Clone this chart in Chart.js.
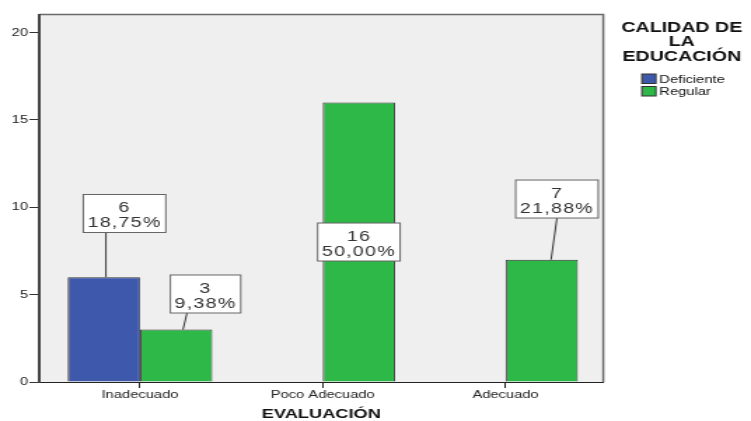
<!DOCTYPE html>
<html>
<head>
<meta charset="utf-8">
<script src="https://cdn.jsdelivr.net/npm/chart.js@4.4.0/dist/chart.umd.min.js"></script>
<style>
  html, body { margin: 0; padding: 0; background: #fff; overflow: hidden; }
</style>
</head>
<body>
<!-- the original export is stretched sideways, so the canvas is drawn narrow and widened by css -->
<canvas id="chart" width="536" height="421" style="width:751px;height:421px"></canvas>
<script>
const categories = ['Inadecuado', 'Poco Adecuado', 'Adecuado'];
const deficienteCounts = [6, null, null];
const regularCounts = [3, 16, 7];
const yTicks = [0, 5, 10, 15, 20];
const legendTitle = ['CALIDAD DE', 'LA', 'EDUCACIÓN'];
const xTitle = 'EVALUACIÓN';

const FONT = '"Liberation Sans", Arial, sans-serif';
const total = deficienteCounts.concat(regularCounts).reduce((s, v) => s + (v || 0), 0);
const pct = v => (v * 100 / total).toFixed(2).replace('.', ',') + '%';

// where SPSS put each callout box, relative to the top of its bar
const callouts = [
  { ds: 0, i: 0, dx: 14.8, dy: -63.7, lx0: 1.5, lx1: 1.5 },
  { ds: 1, i: 0, dx: 21, dy: -35.6, lx0: 4.9, lx1: 7.8 },
  { ds: 1, i: 1, dx: 0, dy: null },
  { ds: 1, i: 2, dx: 10.9, dy: -60.7, lx0: 6.7, lx1: 10.9 }
];

const toPoints = arr => arr.map((v, i) => ({ x: i, y: v }));

const plotBox = {
  id: 'plotBox',
  beforeDraw(chart) {
    const { ctx, chartArea: a } = chart;
    ctx.save();
    ctx.fillStyle = '#efefef';
    ctx.fillRect(a.left, a.top, a.right - a.left, a.bottom - a.top);
    ctx.strokeStyle = '#6a6a6a';
    ctx.lineWidth = 1.5;
    ctx.beginPath();
    ctx.moveTo(a.left, a.top);
    ctx.lineTo(a.right, a.top);
    ctx.lineTo(a.right, a.bottom);
    ctx.stroke();
    ctx.restore();
  }
};

const calloutLabels = {
  id: 'calloutLabels',
  afterDatasetsDraw(chart) {
    const ctx = chart.ctx;
    ctx.save();
    ctx.font = '14px ' + FONT;
    ctx.letterSpacing = '0.9px';
    ctx.textAlign = 'center';
    ctx.textBaseline = 'alphabetic';
    callouts.forEach(c => {
      const bar = chart.getDatasetMeta(c.ds).data[c.i];
      const p = bar.getProps(['x', 'y', 'base'], true);
      const value = chart.data.datasets[c.ds].data[c.i].y;
      const lines = [String(value), pct(value)];
      const tw = Math.max(...lines.map(t => ctx.measureText(t).width));
      const bw = tw + 6, bh = 38;
      const cx = p.x + c.dx;
      const cy = c.dy === null ? (p.y + p.base) / 2 : p.y + c.dy;
      const top = cy - bh / 2;
      if (c.dy !== null) {
        ctx.strokeStyle = '#333';
        ctx.lineWidth = 1;
        ctx.beginPath();
        ctx.moveTo(p.x + c.lx0, p.y);
        ctx.lineTo(p.x + c.lx1, top + bh);
        ctx.stroke();
      }
      ctx.fillStyle = '#fff';
      ctx.fillRect(cx - bw / 2, top, bw, bh);
      ctx.strokeStyle = '#666';
      ctx.lineWidth = 1;
      ctx.strokeRect(cx - bw / 2, top, bw, bh);
      ctx.fillStyle = '#333';
      ctx.fillText(lines[0], cx, top + 18);
      ctx.fillText(lines[1], cx, top + 33);
    });
    ctx.restore();
  }
};

const sideLegend = {
  id: 'sideLegend',
  afterDraw(chart) {
    const { ctx, chartArea: a } = chart;
    const cx = a.right + 56;
    ctx.save();
    ctx.fillStyle = '#111';
    ctx.textAlign = 'center';
    ctx.textBaseline = 'alphabetic';
    ctx.font = 'bold 14px ' + FONT;
    legendTitle.forEach((t, k) => ctx.fillText(t, cx, 31.7 + k * 14.5));
    ctx.font = '10.5px ' + FONT;
    ctx.textAlign = 'left';
    chart.data.datasets.forEach((ds, k) => {
      const y = 74 + k * 12.5;
      ctx.fillStyle = ds.backgroundColor;
      ctx.fillRect(cx - 28.5, y, 10, 9.5);
      ctx.strokeStyle = '#333';
      ctx.lineWidth = 1;
      ctx.strokeRect(cx - 28.5, y, 10, 9.5);
      ctx.fillStyle = '#111';
      ctx.fillText(ds.label, cx - 16, y + 8.5);
    });
    ctx.restore();
  }
};

new Chart(document.getElementById('chart'), {
  type: 'bar',
  data: {
    datasets: [
      {
        label: 'Deficiente',
        data: toPoints(deficienteCounts),
        backgroundColor: '#3e58ac',
        borderColor: '#333',
        borderWidth: 1
      },
      {
        label: 'Regular',
        data: toPoints(regularCounts),
        backgroundColor: '#2eb848',
        borderColor: '#333',
        borderWidth: 1
      }
    ]
  },
  options: {
    responsive: false,
    animation: false,
    events: [],
    layout: { padding: { top: 14.5, right: 105.4, bottom: 0, left: 0 } },
    datasets: { bar: { categoryPercentage: 0.791, barPercentage: 1 } },
    scales: {
      x: {
        type: 'linear',
        offset: false,
        min: -0.551,
        max: 2.535,
        afterBuildTicks: s => { s.ticks = categories.map((c, i) => ({ value: i })); },
        afterFit: s => { s.height = 39; },
        ticks: {
          callback: v => categories[v],
          color: '#222',
          font: { family: FONT, size: 10.5 },
          padding: 1,
          maxRotation: 0,
          autoSkip: false
        },
        grid: { offset: false, drawOnChartArea: false, drawTicks: true, tickLength: 6, color: '#222' },
        border: { color: '#222', width: 1 },
        title: {
          display: true,
          text: xTitle,
          color: '#111',
          font: { family: FONT, size: 13, weight: 'bold', lineHeight: 1 },
          padding: 0
        }
      },
      y: {
        min: 0,
        max: 21.04,
        afterBuildTicks: s => { s.ticks = yTicks.map(v => ({ value: v })); },
        afterFit: s => { s.width = 28; },
        ticks: {
          color: '#222',
          font: { family: FONT, size: 10.5 },
          padding: 1
        },
        grid: { drawOnChartArea: false, drawTicks: true, tickLength: 7, color: '#333' },
        border: { color: '#444', width: 2 }
      }
    },
    plugins: {
      legend: { display: false },
      tooltip: { enabled: false }
    }
  },
  plugins: [plotBox, calloutLabels, sideLegend]
});
</script>
</body>
</html>
